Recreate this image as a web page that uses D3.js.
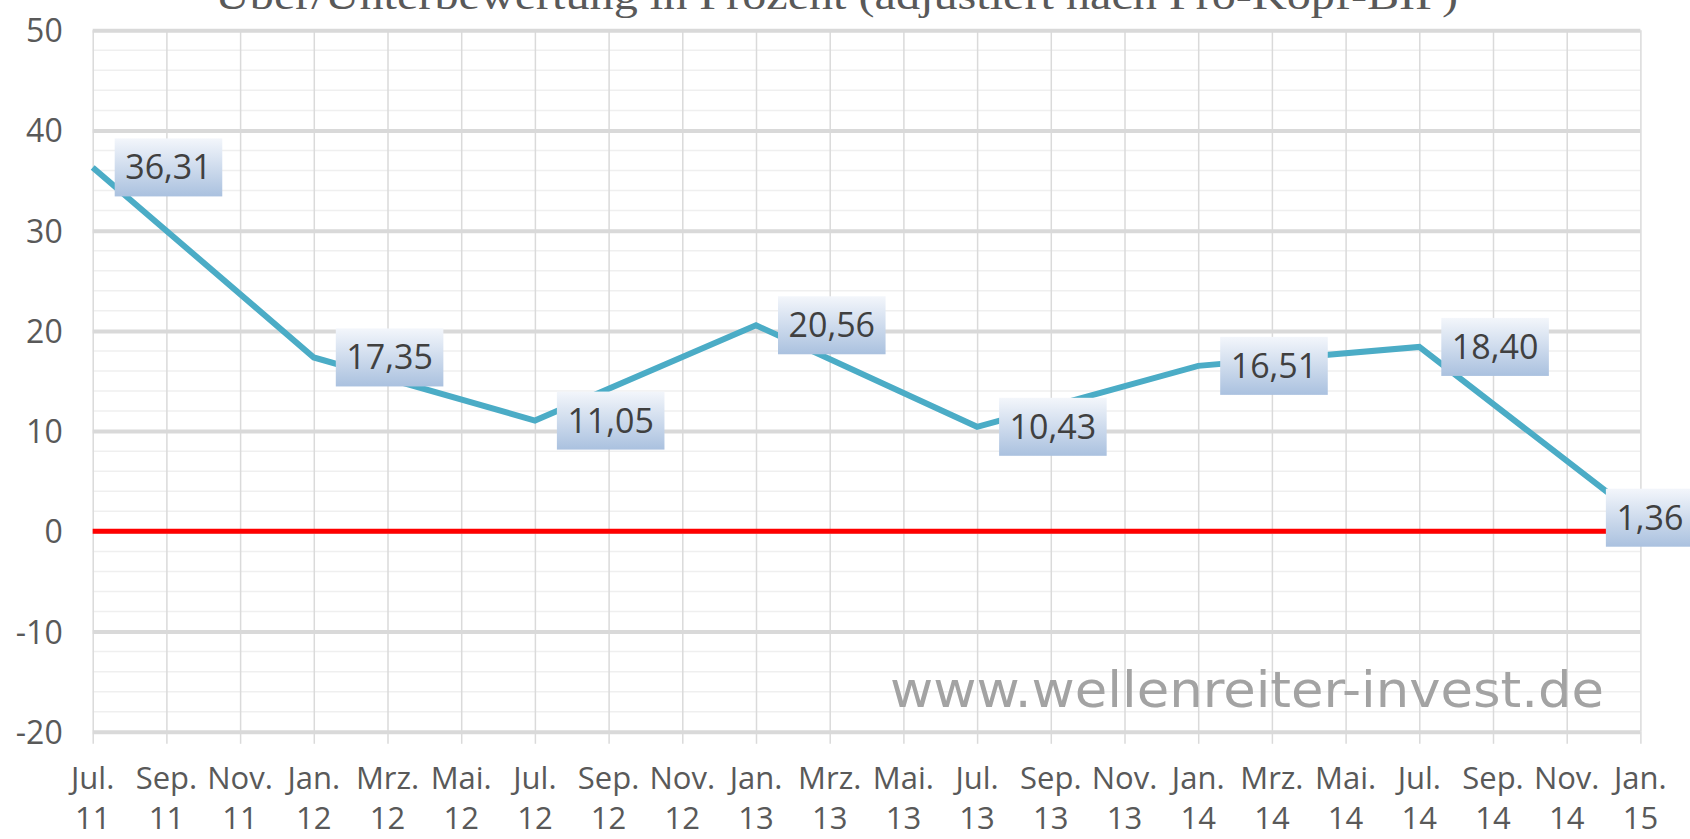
<!DOCTYPE html>
<html>
<head>
<meta charset="utf-8">
<script src="https://cdn.jsdelivr.net/npm/d3@7"></script>
<style>
  html, body { margin: 0; padding: 0; background: #fff; }
  svg { display: block; }
</style>
</head>
<body>
<div id="chart"></div>
<script>
// tick categories (every 2 months)
const tickMonths = ['Jul.', 'Sep.', 'Nov.', 'Jan.', 'Mrz.', 'Mai.', 'Jul.', 'Sep.', 'Nov.', 'Jan.', 'Mrz.',
  'Mai.', 'Jul.', 'Sep.', 'Nov.', 'Jan.', 'Mrz.', 'Mai.', 'Jul.', 'Sep.', 'Nov.', 'Jan.'];
const tickYears = ['11', '11', '11', '12', '12', '12', '12', '12', '12', '13', '13',
  '13', '13', '13', '13', '14', '14', '14', '14', '14', '14', '15'];
const categories = tickMonths.map((m, i) => m + ' ' + tickYears[i]);

// series: over/under valuation in percent
const pointDates = ['Jul. 11', 'Jan. 12', 'Jul. 12', 'Jan. 13', 'Jul. 13', 'Jan. 14', 'Jul. 14', 'Jan. 15'];
const pointValues = [36.31, 17.35, 11.05, 20.56, 10.43, 16.51, 18.40, 1.36];

const yTicks = [-20, -10, 0, 10, 20, 30, 40, 50];
const yMinor = d3.range(-20, 51, 2);

const titleText = 'Über/Unterbewertung in Prozent (adjustiert nach Pro-Kopf-BIP)';
const watermark = 'www.wellenreiter-invest.de';

const width = 1690;
const height = 839;
const plot = { left: 92.7, right: 1640.4, top: 30.2, bottom: 731.8 };

const de = d3.formatLocale({ decimal: ',', thousands: '.', grouping: [3], currency: ['', ' €'] });
const fmt = de.format('.2f');

const svg = d3.select('#chart')
  .append('svg')
  .attr('width', width)
  .attr('height', height)
  .style('font-family', '"Open Sans", sans-serif');

svg.append('rect').attr('width', width).attr('height', height).attr('fill', '#fff');

const defs = svg.append('defs');
const grad = defs.append('linearGradient')
  .attr('id', 'lblGrad')
  .attr('x1', 0).attr('y1', 0).attr('x2', 0).attr('y2', 1);
grad.append('stop').attr('offset', '0%').attr('stop-color', '#f3f6fb');
grad.append('stop').attr('offset', '100%').attr('stop-color', '#aac1df');

const xScale = d3.scalePoint()
  .domain(categories)
  .range([plot.left, plot.right]);

const yScale = d3.scaleLinear()
  .domain([-20, 50])
  .range([plot.bottom, plot.top]);

// minor horizontal gridlines
svg.append('g')
  .selectAll('line')
  .data(yMinor.filter(v => v % 10 !== 0))
  .join('line')
  .attr('x1', plot.left).attr('x2', plot.right)
  .attr('y1', d => yScale(d)).attr('y2', d => yScale(d))
  .attr('stroke', '#efefef')
  .attr('stroke-width', 1.5);

// vertical gridlines + small ticks below the axis
svg.append('g')
  .attr('transform', `translate(0, ${plot.bottom})`)
  .call(d3.axisBottom(xScale).tickSize(-(plot.bottom - plot.top)).tickFormat(''))
  .call(g => g.select('.domain').remove())
  .call(g => g.selectAll('line').attr('stroke', '#dadada').attr('stroke-width', 1.5));

svg.append('g')
  .attr('transform', `translate(0, ${plot.bottom})`)
  .call(d3.axisBottom(xScale).tickSize(12).tickFormat(''))
  .call(g => g.select('.domain').remove())
  .call(g => g.selectAll('line').attr('stroke', '#dadada').attr('stroke-width', 1.5));

// major horizontal gridlines
svg.append('g')
  .attr('transform', `translate(${plot.left}, 0)`)
  .call(d3.axisLeft(yScale).tickValues(yTicks).tickSize(-(plot.right - plot.left)).tickFormat(''))
  .call(g => g.select('.domain').remove())
  .call(g => g.selectAll('line').attr('stroke', '#d9d9d9').attr('stroke-width', 4));

// y labels
svg.append('g')
  .attr('transform', `translate(${plot.left}, 0)`)
  .call(d3.axisLeft(yScale).tickValues(yTicks).tickSize(0).tickPadding(30).tickFormat(d => d))
  .call(g => g.select('.domain').remove())
  .call(g => g.selectAll('text')
    .attr('font-size', 32)
    .attr('font-family', '"Open Sans", sans-serif')
    .attr('fill', '#595959')
    .attr('dy', '0.36em'));

// x labels, two lines
const xl = svg.append('g')
  .selectAll('text')
  .data(categories)
  .join('text')
  .attr('x', d => xScale(d))
  .attr('text-anchor', 'middle')
  .attr('font-size', 31)
  .attr('fill', '#595959');
xl.append('tspan').attr('x', d => xScale(d)).attr('y', 789).text((d, i) => tickMonths[i]);
xl.append('tspan').attr('x', d => xScale(d)).attr('y', 829).text((d, i) => tickYears[i]);

// title (cut off at the top edge, as in the original)
svg.append('text')
  .attr('x', 215)
  .attr('y', 9)
  .attr('font-family', '"Liberation Serif", "DejaVu Serif", serif')
  .attr('font-size', 40)
  .attr('fill', '#595959')
  .attr('textLength', 1243)
  .attr('lengthAdjust', 'spacingAndGlyphs')
  .text(titleText);

// watermark
svg.append('text')
  .attr('x', 890)
  .attr('y', 707)
  .attr('font-family', '"DejaVu Sans", sans-serif')
  .attr('font-size', 50)
  .attr('fill', '#a3a3a3')
  .attr('textLength', 714)
  .attr('lengthAdjust', 'spacingAndGlyphs')
  .text(watermark);

// zero line
svg.append('line')
  .attr('x1', plot.left).attr('x2', plot.right)
  .attr('y1', yScale(0)).attr('y2', yScale(0))
  .attr('stroke', '#ff0000')
  .attr('stroke-width', 5);

const points = pointDates.map((d, i) => ({ cat: d, value: pointValues[i] }));

const line = d3.line()
  .x(d => xScale(d.cat))
  .y(d => yScale(d.value));

svg.append('path')
  .datum(points)
  .attr('d', line)
  .attr('fill', 'none')
  .attr('stroke', '#4bacc6')
  .attr('stroke-width', 6);

// data labels
const labels = svg.append('g')
  .selectAll('g')
  .data(points)
  .join('g');

labels.each(function (d) {
  const g = d3.select(this);
  const rect = g.append('rect');
  const txt = g.append('text')
    .attr('font-size', 34)
    .attr('fill', '#404040')
    .text(fmt(d.value));
  const tw = txt.node().getComputedTextLength();
  const pad = 10.5;
  const bw = tw + pad * 2;
  const bh = 58;
  let bx = xScale(d.cat) + 22;
  if (bx + bw > width + 4) bx = width + 4 - bw;
  const cy = yScale(d.value);
  rect.attr('x', bx).attr('y', cy - bh / 2)
    .attr('width', bw).attr('height', bh)
    .attr('fill', 'url(#lblGrad)');
  txt.attr('x', bx + pad).attr('y', cy + 12);
});
</script>
</body>
</html>
